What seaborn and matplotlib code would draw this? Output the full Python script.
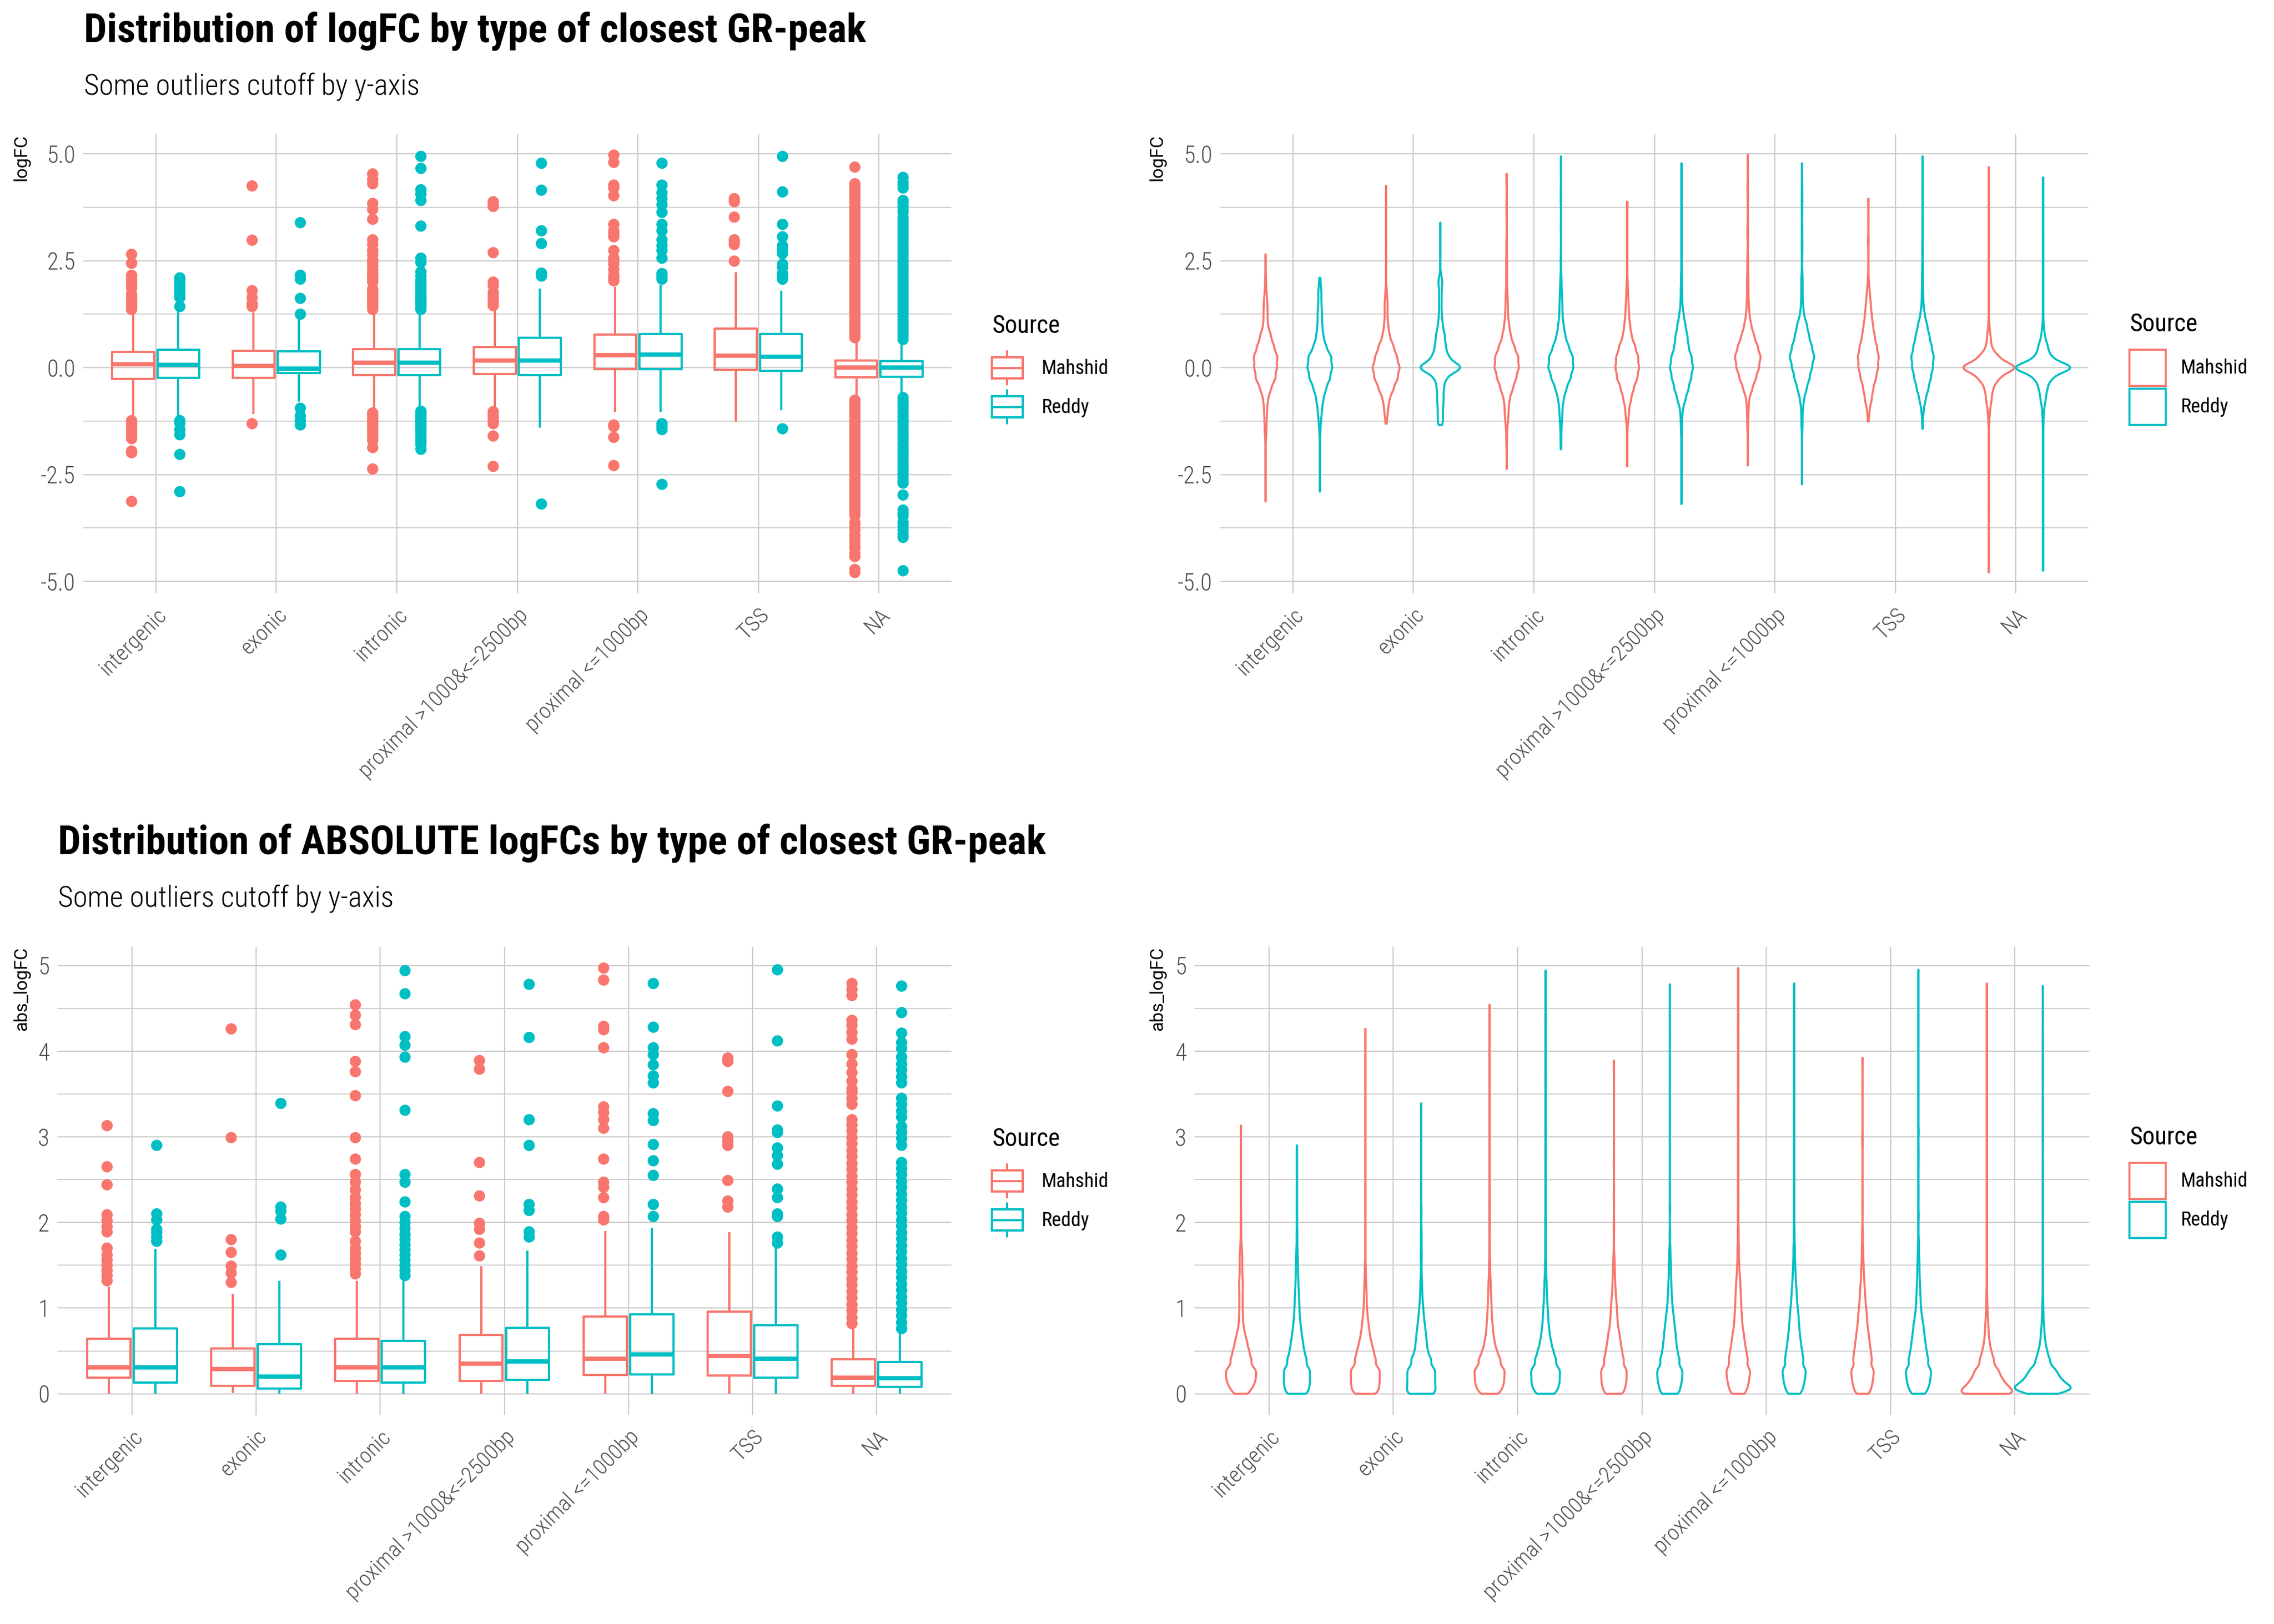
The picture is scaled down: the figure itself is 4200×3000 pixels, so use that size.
import numpy as np
import pandas as pd
import matplotlib
matplotlib.use("Agg")
import matplotlib.pyplot as plt
import seaborn as sns
from matplotlib import font_manager
from matplotlib.patches import Patch, Rectangle
from matplotlib.lines import Line2D
from matplotlib.legend_handler import HandlerBase
from matplotlib.ticker import MultipleLocator, FormatStrFormatter

# ---------------- data ----------------
categories = ["intergenic", "exonic", "intronic", "proximal >1000&<=2500bp",
              "proximal <=1000bp", "TSS", "NA"]
sources = ["Mahshid", "Reddy"]
colors = ["#F8766D", "#00BFC4"]

# logFC boxplots: lower whisker end, q1, median, q3, upper whisker end
fc_lo_m = [-1.16, -1.09, -1.02, -0.99, -1.04, -1.26, -0.74]
fc_q1_m = [-0.26, -0.24, -0.18, -0.15, -0.04, -0.05, -0.23]
fc_med_m = [0.08, 0.04, 0.12, 0.16, 0.29, 0.28, 0.00]
fc_q3_m = [0.37, 0.40, 0.43, 0.48, 0.77, 0.91, 0.16]
fc_hi_m = [1.30, 1.29, 1.25, 1.36, 1.89, 2.23, 0.68]
fc_lo_r = [-1.16, -0.79, -0.99, -1.40, -1.04, -1.00, -0.67]
fc_q1_r = [-0.24, -0.13, -0.17, -0.17, -0.04, -0.08, -0.21]
fc_med_r = [0.07, -0.03, 0.11, 0.16, 0.31, 0.26, 0.00]
fc_q3_r = [0.42, 0.38, 0.43, 0.70, 0.79, 0.79, 0.15]
fc_hi_r = [1.38, 1.14, 1.25, 1.85, 1.94, 1.80, 0.65]

# logFC outliers
fc_out_m = [
    [1.36, 1.41, 1.47, 1.53, 1.59, 1.65, 1.71, 1.86, 1.93, 2.0, 2.08, 2.16, 2.44, 2.65,
     -1.24, -1.3, -1.37, -1.44, -1.5, -1.58, -1.66, -1.95, -1.99, -3.13],
    [1.43, 1.5, 1.64, 1.8, 2.98, 4.25, -1.31],
    [1.36, 1.42, 1.48, 1.54, 1.6, 1.66, 1.72, 1.78, 1.84, 2.0, 2.06, 2.12, 2.2, 2.28, 2.38,
     2.46, 2.52, 2.64, 2.74, 2.88, 2.99, 3.47, 3.7, 3.84, 4.3, 4.4, 4.53,
     -1.06, -1.12, -1.18, -1.25, -1.32, -1.4, -1.48, -1.56, -1.64, -1.7, -1.87, -2.37],
    [1.45, 1.52, 1.6, 1.68, 1.76, 1.92, 2.0, 2.69, 3.77, 3.82, 3.88,
     -1.03, -1.1, -1.17, -1.24, -1.31, -1.6, -2.31],
    [2.03, 2.1, 2.17, 2.29, 2.42, 2.5, 2.56, 2.74, 3.06, 3.13, 3.2, 3.35, 4.02, 4.2, 4.27,
     4.8, 4.97, -1.34, -1.38, -1.63, -2.29],
    [2.49, 2.88, 2.94, 2.99, 3.52, 3.88, 3.95],
    [0.70, 0.77, 0.85, 0.92, 1.00, 1.07, 1.15, 1.22, 1.30, 1.37, 1.45, 1.52, 1.60, 1.67,
     1.75, 1.82, 1.90, 1.97, 2.05, 2.12, 2.20, 2.27, 2.35, 2.42, 2.50, 2.57, 2.65, 2.72,
     2.80, 2.87, 2.95, 3.02, 3.10, 3.17, 3.25, 3.32, 3.40, 3.47, 3.55, 3.62, 3.70, 3.77,
     3.85, 3.92, 4.00, 4.08, 4.16, 4.24, 4.30, 4.69,
     -0.76, -0.83, -0.91, -0.98, -1.06, -1.13, -1.21, -1.28, -1.36, -1.43, -1.51, -1.58,
     -1.66, -1.73, -1.81, -1.88, -1.96, -2.03, -2.11, -2.18, -2.26, -2.33, -2.41, -2.48,
     -2.56, -2.63, -2.71, -2.78, -2.86, -2.93, -3.01, -3.08, -3.16, -3.23, -3.31, -3.38,
     -3.46, -3.62, -3.70, -3.80, -3.92, -4.02, -4.12, -4.22, -4.35, -4.42, -4.72, -4.79],
]
fc_out_r = [
    [1.43, 1.64, 1.7, 1.76, 1.82, 1.88, 1.94, 2.0, 2.06, 2.1,
     -1.24, -1.3, -1.45, -1.57, -2.03, -2.9],
    [1.25, 1.62, 2.07, 2.16, 3.39, -0.95, -1.13, -1.24, -1.34],
    [1.36, 1.42, 1.48, 1.54, 1.6, 1.66, 1.72, 1.8, 1.88, 1.96, 2.04, 2.14, 2.24, 2.46, 2.56,
     3.31, 3.91, 4.06, 4.16, 4.66, 4.94,
     -1.02, -1.08, -1.14, -1.2, -1.27, -1.34, -1.41, -1.48, -1.56, -1.64, -1.72, -1.8, -1.91],
    [2.14, 2.21, 2.9, 3.2, 4.15, 4.78, -3.19],
    [2.07, 2.14, 2.2, 2.56, 2.74, 2.85, 2.99, 3.2, 3.35, 3.63, 3.81, 3.95, 4.09, 4.27, 4.78,
     -1.31, -1.38, -1.45, -2.73],
    [2.07, 2.14, 2.2, 2.35, 2.42, 2.67, 2.76, 2.85, 3.06, 3.35, 4.11, 4.94, -1.43],
    [0.66, 0.74, 0.81, 0.89, 0.96, 1.04, 1.11, 1.19, 1.26, 1.34, 1.41, 1.49, 1.56, 1.64,
     1.71, 1.79, 1.86, 1.94, 2.01, 2.09, 2.16, 2.24, 2.31, 2.39, 2.46, 2.54, 2.61, 2.69,
     2.76, 2.84, 2.91, 2.99, 3.06, 3.14, 3.21, 3.29, 3.36, 3.44, 3.50, 3.63, 3.70, 3.78,
     3.86, 3.91, 4.20, 4.27, 4.34, 4.45,
     -0.70, -0.77, -0.85, -0.92, -1.00, -1.07, -1.15, -1.22, -1.30, -1.37, -1.45, -1.52,
     -1.60, -1.67, -1.75, -1.82, -1.90, -1.97, -2.05, -2.12, -2.20, -2.27, -2.35, -2.42,
     -2.50, -2.57, -2.65, -2.70, -2.98, -3.33, -3.40, -3.47, -3.62, -3.70, -3.80, -3.90,
     -3.97, -4.75],
]

# logFC violins: relative amount of data at each level
fc_levels = [-1.5, -1.25, -1.0, -0.75, -0.5, -0.25, 0.0, 0.25, 0.5, 0.75, 1.0, 1.25, 1.5, 1.75, 2.0]
fc_dens_m = [
    [2, 4, 10, 16, 36, 66, 76, 80, 56, 36, 16, 12, 8, 4, 0],
    [0, 4, 12, 22, 50, 78, 92, 74, 50, 24, 14, 8, 8, 4, 0],
    [0, 6, 12, 20, 44, 68, 88, 84, 54, 30, 18, 8, 4, 2, 0],
    [0, 4, 10, 26, 44, 70, 82, 76, 54, 30, 20, 12, 6, 4, 2],
    [0, 2, 4, 8, 26, 48, 66, 76, 58, 36, 20, 10, 6, 4, 2],
    [0, 2, 8, 22, 32, 50, 64, 68, 56, 40, 30, 22, 16, 10, 4],
    [0, 6, 16, 42, 66, 162, 468, 156, 42, 24, 6, 0, 0, 0, 0],
]
fc_dens_r = [
    [2, 6, 16, 26, 46, 76, 92, 86, 46, 26, 18, 16, 10, 8, 2],
    [0, 12, 12, 16, 18, 28, 116, 42, 28, 24, 12, 6, 6, 6, 10],
    [0, 4, 8, 20, 40, 70, 92, 88, 56, 32, 20, 10, 6, 4, 2],
    [2, 4, 8, 26, 46, 62, 76, 66, 46, 38, 26, 14, 6, 4, 2],
    [0, 2, 4, 12, 28, 46, 60, 76, 60, 42, 30, 12, 6, 4, 2],
    [0, 2, 6, 20, 38, 54, 68, 74, 60, 44, 30, 14, 6, 4, 2],
    [0, 4, 10, 36, 64, 126, 480, 120, 72, 24, 6, 0, 0, 0, 0],
]

# abs_logFC boxplots
abs_lo_m = [0.0, 0.01, 0.0, 0.0, 0.0, 0.0, 0.0]
abs_q1_m = [0.185, 0.09, 0.15, 0.15, 0.22, 0.21, 0.09]
abs_med_m = [0.31, 0.29, 0.31, 0.35, 0.41, 0.44, 0.19]
abs_q3_m = [0.64, 0.53, 0.64, 0.69, 0.90, 0.96, 0.40]
abs_hi_m = [1.25, 1.17, 1.32, 1.49, 1.90, 1.89, 0.81]
abs_lo_r = [0.0, 0.0, 0.0, 0.0, 0.0, 0.0, 0.0]
abs_q1_r = [0.13, 0.06, 0.13, 0.16, 0.225, 0.185, 0.08]
abs_med_r = [0.305, 0.20, 0.305, 0.38, 0.46, 0.41, 0.18]
abs_q3_r = [0.76, 0.58, 0.62, 0.77, 0.93, 0.80, 0.37]
abs_hi_r = [1.69, 1.32, 1.32, 1.675, 1.94, 1.74, 0.74]

abs_out_m = [
    [1.32, 1.38, 1.44, 1.5, 1.56, 1.62, 1.7, 1.89, 1.95, 2.02, 2.09, 2.44, 2.65, 3.13],
    [1.30, 1.41, 1.49, 1.65, 1.80, 2.99, 4.26],
    [1.40, 1.46, 1.52, 1.58, 1.64, 1.7, 1.78, 1.89, 1.95, 2.02, 2.09, 2.16, 2.22, 2.29,
     2.38, 2.47, 2.56, 2.74, 2.99, 3.48, 3.76, 3.88, 4.31, 4.42, 4.54],
    [1.61, 1.76, 1.92, 1.99, 2.31, 2.70, 3.79, 3.89],
    [2.03, 2.07, 2.29, 2.41, 2.47, 2.74, 3.1, 3.2, 3.28, 3.35, 4.04, 4.25, 4.29, 4.83, 4.97],
    [2.18, 2.25, 2.49, 2.90, 2.95, 3.0, 3.53, 3.88, 3.92],
    [0.82, 0.89, 0.97, 1.04, 1.12, 1.19, 1.27, 1.34, 1.42, 1.49, 1.57, 1.64, 1.72, 1.79,
     1.87, 1.94, 2.02, 2.09, 2.17, 2.24, 2.32, 2.39, 2.47, 2.54, 2.62, 2.69, 2.77, 2.84,
     2.92, 2.99, 3.07, 3.14, 3.20, 3.38, 3.45, 3.52, 3.56, 3.65, 3.75, 3.85, 3.96, 4.14,
     4.22, 4.30, 4.36, 4.65, 4.72, 4.79],
]
abs_out_r = [
    [1.78, 1.83, 1.88, 1.92, 2.03, 2.10, 2.9],
    [1.62, 2.04, 2.13, 2.18, 3.39],
    [1.38, 1.44, 1.5, 1.56, 1.62, 1.68, 1.74, 1.8, 1.86, 1.93, 2.0, 2.07, 2.24, 2.47, 2.56,
     3.31, 3.93, 4.07, 4.17, 4.67, 4.94],
    [1.83, 1.89, 2.14, 2.21, 2.9, 3.2, 4.16, 4.78],
    [2.07, 2.21, 2.55, 2.72, 2.91, 3.19, 3.27, 3.63, 3.71, 3.84, 3.96, 4.04, 4.28, 4.79],
    [1.76, 1.83, 2.07, 2.10, 2.29, 2.39, 2.68, 2.78, 2.87, 3.05, 3.08, 3.36, 4.12, 4.95],
    [0.76, 0.83, 0.91, 0.98, 1.06, 1.13, 1.21, 1.28, 1.36, 1.43, 1.51, 1.58, 1.66, 1.73,
     1.81, 1.88, 1.96, 2.03, 2.11, 2.18, 2.26, 2.33, 2.41, 2.48, 2.56, 2.63, 2.70, 2.90,
     2.98, 3.05, 3.12, 3.23, 3.30, 3.38, 3.45, 3.63, 3.70, 3.78, 3.85, 3.93, 4.03, 4.10,
     4.21, 4.45, 4.76],
]

abs_levels = [0.0, 0.05, 0.1, 0.15, 0.2, 0.25, 0.3, 0.4, 0.5, 0.6, 0.7, 0.8, 0.9, 1.0,
              1.1, 1.2, 1.3, 1.4, 1.5, 1.6, 1.7, 1.8, 1.9]
abs_dens_m = [
    [24, 30, 39, 43, 45, 42, 57, 62, 48, 36, 24, 14, 12, 10, 10, 10, 10, 6, 6, 6, 4, 2, 0],
    [44, 37, 41, 43, 42, 39, 56, 62, 48, 36, 26, 20, 14, 10, 8, 6, 4, 2, 2, 0, 0, 0, 0],
    [34, 37, 42, 45, 44, 42, 61, 66, 44, 30, 22, 18, 14, 12, 10, 8, 6, 2, 2, 0, 0, 0, 0],
    [35, 30, 35, 38, 37, 35, 51, 58, 48, 40, 32, 24, 20, 18, 14, 10, 8, 6, 4, 2, 0, 0, 0],
    [24, 24, 29, 31, 32, 31, 45, 54, 46, 38, 32, 24, 20, 18, 16, 14, 12, 8, 6, 4, 4, 2, 2],
    [22, 23, 27, 29, 30, 29, 42, 52, 46, 40, 34, 28, 24, 20, 16, 14, 10, 8, 6, 4, 4, 2, 2],
    [222, 134, 115, 96, 80, 66, 82, 80, 51, 32, 22, 16, 10, 6, 4, 2, 0, 0, 0, 0, 0, 0, 0],
]
abs_dens_r = [
    [36, 32, 35, 37, 35, 33, 48, 54, 40, 34, 26, 20, 16, 14, 12, 10, 8, 6, 6, 4, 2, 0, 0],
    [56, 39, 41, 42, 40, 38, 55, 60, 38, 32, 28, 22, 16, 12, 8, 6, 4, 2, 2, 2, 2, 2, 2],
    [37, 37, 42, 45, 43, 41, 60, 66, 48, 34, 26, 20, 16, 14, 10, 8, 6, 2, 2, 0, 0, 0, 0],
    [32, 27, 31, 34, 35, 33, 46, 54, 42, 36, 32, 26, 22, 16, 12, 10, 8, 6, 6, 4, 2, 0, 0],
    [22, 23, 28, 30, 31, 30, 44, 52, 44, 38, 32, 28, 24, 20, 16, 14, 10, 8, 6, 4, 4, 2, 2],
    [23, 25, 30, 32, 33, 32, 46, 54, 44, 38, 32, 26, 20, 14, 12, 10, 8, 6, 6, 4, 2, 0, 0],
    [37, 220, 105, 99, 80, 64, 77, 67, 42, 26, 16, 10, 6, 4, 2, 0, 0, 0, 0, 0, 0, 0, 0],
]

# ---------------- fonts / theme ----------------
sns.set_theme(style="white")
names = {f.name for f in font_manager.fontManager.ttflist}
cond = next((n for n in ["Roboto Condensed", "Liberation Sans Narrow"] if n in names), "DejaVu Sans")
plain = "Roboto" if "Roboto" in names else "DejaVu Sans"
plt.rcParams["font.family"] = [cond, "DejaVu Sans"]
plt.rcParams["axes.unicode_minus"] = False
plt.rcParams["text.color"] = "black"


# ---------------- frames ----------------
def five_rows(five, src):
    rows = []
    for i, cat in enumerate(categories):
        for arr in five:
            rows.append((cat, src, arr[i]))
    return rows


def out_rows(outs, src):
    return [(cat, src, v) for cat, vals in zip(categories, outs) for v in vals]


def violin_rows(levels, dens, outs, five, src):
    rows = []
    for i, cat in enumerate(categories):
        vals = list(np.repeat(levels, dens[i])) + list(outs[i]) + [arr[i] for arr in five]
        rows += [(cat, src, v) for v in vals]
    return rows


cols = ["type", "Source", "value"]
fc_five_m = [fc_lo_m, fc_q1_m, fc_med_m, fc_q3_m, fc_hi_m]
fc_five_r = [fc_lo_r, fc_q1_r, fc_med_r, fc_q3_r, fc_hi_r]
abs_five_m = [abs_lo_m, abs_q1_m, abs_med_m, abs_q3_m, abs_hi_m]
abs_five_r = [abs_lo_r, abs_q1_r, abs_med_r, abs_q3_r, abs_hi_r]

fc_box = pd.DataFrame(five_rows(fc_five_m, "Mahshid") + five_rows(fc_five_r, "Reddy"), columns=cols)
fc_out = pd.DataFrame(out_rows(fc_out_m, "Mahshid") + out_rows(fc_out_r, "Reddy"), columns=cols)
fc_vio = pd.DataFrame(violin_rows(fc_levels, fc_dens_m, fc_out_m, fc_five_m, "Mahshid")
                      + violin_rows(fc_levels, fc_dens_r, fc_out_r, fc_five_r, "Reddy"), columns=cols)
abs_box = pd.DataFrame(five_rows(abs_five_m, "Mahshid") + five_rows(abs_five_r, "Reddy"), columns=cols)
abs_out = pd.DataFrame(out_rows(abs_out_m, "Mahshid") + out_rows(abs_out_r, "Reddy"), columns=cols)
abs_vio = pd.DataFrame(violin_rows(abs_levels, abs_dens_m, abs_out_m, abs_five_m, "Mahshid")
                       + violin_rows(abs_levels, abs_dens_r, abs_out_r, abs_five_r, "Reddy"), columns=cols)


def fixed_bw(h):
    # callable for seaborn's kde: gives a bandwidth of h in data units
    return lambda kde: h / np.std(kde.dataset, ddof=1)


def padded(df):
    lo, hi = df["value"].min(), df["value"].max()
    r = hi - lo
    return lo - 0.05 * r, hi + 0.05 * r


class BoxKey(HandlerBase):
    def create_artists(self, legend, orig, xd, yd, w, h, fontsize, trans):
        c = orig.get_edgecolor()
        x0, y0 = -xd, -yd
        box = Rectangle((x0, y0 + 0.18 * h), w, 0.64 * h, facecolor="none", edgecolor=c,
                        linewidth=1.0, transform=trans)
        mid = Line2D([x0, x0 + w], [y0 + 0.5 * h] * 2, color=c, linewidth=1.0, transform=trans)
        wl = Line2D([x0 + w / 2] * 2, [y0, y0 + 0.18 * h], color=c, linewidth=1.0, transform=trans)
        wh = Line2D([x0 + w / 2] * 2, [y0 + 0.82 * h, y0 + h], color=c, linewidth=1.0, transform=trans)
        return [box, mid, wl, wh]


def style(ax, ylim, major, minor, fmt):
    ax.set_xlim(-0.6, 6.6)
    ax.set_ylim(*ylim)
    ax.yaxis.set_major_locator(MultipleLocator(major))
    ax.yaxis.set_minor_locator(MultipleLocator(minor))
    ax.yaxis.set_major_formatter(FormatStrFormatter(fmt))
    ax.set_axisbelow(True)
    ax.grid(True, which="major", color="#cccccc", linewidth=0.55)
    ax.grid(True, which="minor", axis="y", color="#cccccc", linewidth=0.45)
    ax.tick_params(which="both", length=0)
    ax.tick_params(axis="y", labelsize=10.5, labelcolor="#4d4d4d", pad=3.5)
    ax.tick_params(axis="x", labelsize=9.8, labelcolor="#4d4d4d", pad=5)
    for sp in ax.spines.values():
        sp.set_visible(False)
    ax.set_xlabel("")
    ax.set_ylabel("")
    plt.setp(ax.get_xticklabels(), rotation=45, ha="right", va="top",
             rotation_mode="anchor", fontweight="light")
    plt.setp(ax.get_yticklabels(), fontweight="light")


def draw_box(ax, box_df, out_df):
    sns.boxplot(data=box_df, x="type", y="value", hue="Source", order=categories,
                hue_order=sources, palette=colors, saturation=1, fill=False, whis=np.inf,
                width=0.75, gap=0.07, linewidth=1.0, medianprops={"linewidth": 1.9},
                capprops={"visible": False}, legend=False, ax=ax)
    sns.stripplot(data=out_df, x="type", y="value", hue="Source", order=categories,
                  hue_order=sources, palette=colors, dodge=True, jitter=False, size=5.0,
                  linewidth=0, legend=False, ax=ax)


def draw_violin(ax, vio_df, bw):
    sns.violinplot(data=vio_df, x="type", y="value", hue="Source", order=categories,
                   hue_order=sources, palette=colors, saturation=1, fill=False, inner=None,
                   cut=0, density_norm="area", common_norm=True, width=0.9,
                   bw_method=fixed_bw(bw), gridsize=400, linewidth=0.9, legend=False, ax=ax)


def box_legend(ax, x, y):
    hs = [Patch(facecolor="none", edgecolor=c, label=s) for s, c in zip(sources, colors)]
    leg = ax.legend(handles=hs, title="Source", handler_map={h: BoxKey() for h in hs},
                    loc="center left", bbox_to_anchor=(x, y), bbox_transform=fig.transFigure,
                    frameon=False, borderpad=0, borderaxespad=0, handlelength=1.55,
                    handleheight=2.18, handletextpad=0.93, labelspacing=0.3, fontsize=8.8,
                    title_fontsize=11, alignment="left")
    leg._legend_box.sep = 6.2


def violin_legend(ax, x, y):
    hs = [Patch(facecolor="white", edgecolor=c, linewidth=0.9, label=s)
          for s, c in zip(sources, colors)]
    leg = ax.legend(handles=hs, title="Source", loc="center left", bbox_to_anchor=(x, y),
                    bbox_transform=fig.transFigure, frameon=False, borderpad=0, borderaxespad=0,
                    handlelength=1.83, handleheight=2.43, handletextpad=0.75, labelspacing=0.14,
                    fontsize=8.8, title_fontsize=11, alignment="left")
    leg._legend_box.sep = 5.8


# ---------------- figure ----------------
fig = plt.figure(figsize=(14, 10), dpi=300)
W, H = 4200, 3000
ax_tl = fig.add_axes([154 / W, 1 - 1096 / H, 1603 / W, 848 / H])
ax_tr = fig.add_axes([2254 / W, 1 - 1096 / H, 1603 / W, 848 / H])
ax_bl = fig.add_axes([106 / W, 1 - 2614 / H, 1651 / W, 865 / H])
ax_br = fig.add_axes([2206 / W, 1 - 2614 / H, 1653 / W, 865 / H])

fc_lim = padded(fc_vio)
abs_lim = padded(abs_vio)

draw_box(ax_tl, fc_box, fc_out)
style(ax_tl, fc_lim, 2.5, 1.25, "%.1f")
draw_violin(ax_tr, fc_vio, 0.12)
style(ax_tr, fc_lim, 2.5, 1.25, "%.1f")
draw_box(ax_bl, abs_box, abs_out)
style(ax_bl, abs_lim, 1, 0.5, "%d")
draw_violin(ax_br, abs_vio, 0.05)
style(ax_br, abs_lim, 1, 0.5, "%d")

box_legend(ax_tl, 1832 / W, 1 - 681 / H)
violin_legend(ax_tr, 3933 / W, 1 - 681 / H)
box_legend(ax_bl, 1832 / W, 1 - 2183 / H)
violin_legend(ax_br, 3933 / W, 1 - 2183 / H)

fig.text(155 / W, 1 - 78 / H, "Distribution of logFC by type of closest GR-peak",
         fontsize=18, fontweight="bold", ha="left", va="baseline")
fig.text(155 / W, 1 - 174 / H, "Some outliers cutoff by y-axis",
         fontsize=13, fontweight="light", ha="left", va="baseline")
fig.text(107 / W, 1 - 1578 / H, "Distribution of ABSOLUTE logFCs by type of closest GR-peak",
         fontsize=18, fontweight="bold", ha="left", va="baseline")
fig.text(107 / W, 1 - 1674 / H, "Some outliers cutoff by y-axis",
         fontsize=13, fontweight="light", ha="left", va="baseline")

for x, y, lab in [(40, 248, "logFC"), (2138, 248, "logFC"),
                  (40, 1749, "abs_logFC"), (2138, 1749, "abs_logFC")]:
    fig.text(x / W, 1 - y / H, lab, rotation=90, ha="center", va="top",
             fontsize=8, family=[plain, "DejaVu Sans"])

fig.savefig("out.png", dpi=300, facecolor="white")
